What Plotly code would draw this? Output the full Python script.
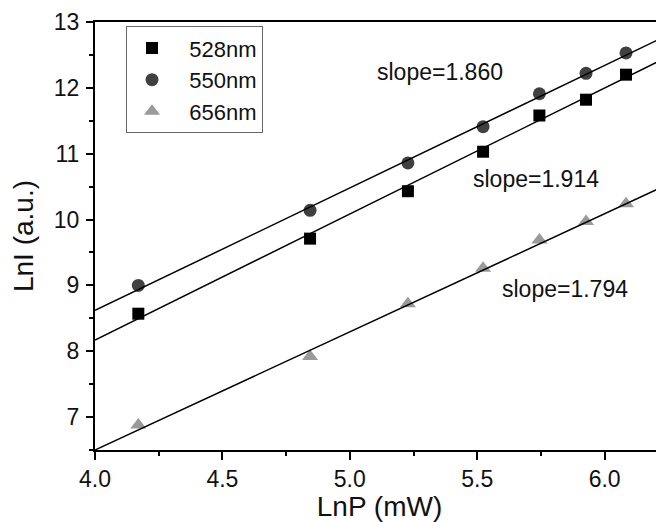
import plotly.graph_objects as go
import numpy as np

lnP = [4.17, 4.844, 5.228, 5.523, 5.744, 5.927, 6.084]
lnI_528 = [8.57, 9.71, 10.43, 11.03, 11.58, 11.82, 12.20]
lnI_550 = [9.00, 10.14, 10.86, 11.41, 11.91, 12.22, 12.53]
lnI_656 = [6.88, 7.92, 8.72, 9.26, 9.69, 9.97, 10.24]

series_names = ["528nm", "550nm", "656nm"]
series_colors = ["#000000", "#404040", "#9a9a9a"]
series_symbols = ["square", "circle", "triangle-up"]

fit_slopes = [1.914, 1.860, 1.794]
fit_intercepts = [0.514, 1.18, -0.676]
slope_labels = ["slope=1.914", "slope=1.860", "slope=1.794"]
label_x = [5.73, 5.354, 5.845]
label_y = [10.61, 12.24, 8.94]

x_range = [4.0, 6.233]
y_range = [6.5, 13.0]

FONT = "Liberation Sans, Arial, sans-serif"
FS = 23
fig = go.Figure()

data = [lnI_528, lnI_550, lnI_656]
sizes = [12, 13, 14]
for name, ys, c, s, sz in zip(series_names, data, series_colors, series_symbols, sizes):
    fig.add_trace(go.Scatter(x=lnP, y=ys, mode="markers", name="\u00a0\u00a0" + name,
                             marker=dict(symbol=s, color=c, size=sz, line=dict(width=0))))

xs = np.array(x_range)
for m, b in zip(fit_slopes, fit_intercepts):
    fig.add_trace(go.Scatter(x=xs, y=m * xs + b, mode="lines", showlegend=False,
                             line=dict(color="black", width=1.5), hoverinfo="skip"))

for t, x, y in zip(slope_labels, label_x, label_y):
    fig.add_annotation(x=x, y=y, text=t, showarrow=False,
                       font=dict(size=FS, color="#111111", family=FONT))

# page body has an 8px margin: compensate in figure size/margins
fig.update_layout(
    width=656, height=514,
    margin=dict(l=87, r=0, t=14, b=72, pad=0),
    paper_bgcolor="white", plot_bgcolor="white",
    font=dict(family=FONT, size=FS, color="#111111"),
    legend=dict(x=0.0545, y=0.99, xanchor="left", yanchor="top",
                bordercolor="#666666", borderwidth=1, bgcolor="white",
                font=dict(size=22), tracegroupgap=0, itemwidth=40),
    xaxis=dict(range=x_range, showgrid=False, zeroline=False,
               showline=True, linecolor="black", linewidth=2, mirror=True,
               ticks="outside", ticklen=8, tickwidth=1.5, tickcolor="black",
               ticklabelstandoff=-1,
               tickvals=[4.0, 4.5, 5.0, 5.5, 6.0], ticktext=["4.0", "4.5", "5.0", "5.5", "6.0"],
               minor=dict(ticks="outside", ticklen=4, tickwidth=1.5, tickcolor="black", dtick=0.25, showgrid=False),
               title=dict(text="LnP (mW)", standoff=11)),
    yaxis=dict(range=y_range, showgrid=False, zeroline=False,
               showline=True, linecolor="black", linewidth=2,
               ticks="outside", ticklen=7, tickwidth=1.5, tickcolor="black",
               ticklabelstandoff=2,
               tickvals=[7, 8, 9, 10, 11, 12, 13],
               minor=dict(ticks="outside", ticklen=4, tickwidth=1.5, tickcolor="black", dtick=0.5, showgrid=False),
               title=dict(text="LnI (a.u.)", standoff=24)),
)

fig.write_html("out.html")
